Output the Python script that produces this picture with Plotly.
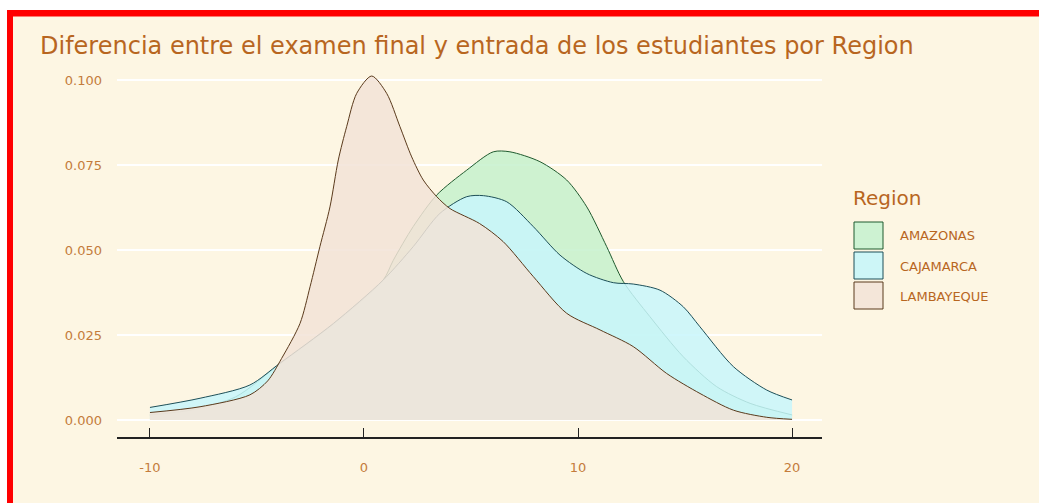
import plotly.graph_objects as go

# ---- data ----
regions = ["AMAZONAS", "CAJAMARCA", "LAMBAYEQUE"]

amazonas_x = [-10, -8, -6, -3.93, -1.43, 0.9, 1.37, 2.3, 3.4, 4.8, 6.04, 6.82, 8.22, 9.47, 10.41, 11.34, 12.12, 13.36, 14.92, 16.48, 18.04, 20]
amazonas_y = [0.0015, 0.003, 0.0068, 0.0165, 0.0282, 0.0412, 0.047, 0.0569, 0.0662, 0.0735, 0.0789, 0.0789, 0.076, 0.0706, 0.0627, 0.051, 0.0407, 0.0304, 0.0186, 0.0098, 0.0049, 0.0015]

cajamarca_x = [-10, -7.66, -5.33, -3.93, -1.43, 0.9, 2.3, 3.55, 4.8, 5.58, 6.67, 7.91, 9.16, 10.41, 11.65, 12.58, 13.83, 14.92, 15.7, 17.26, 18.82, 20]
cajamarca_y = [0.0037, 0.0064, 0.0103, 0.0167, 0.0284, 0.0412, 0.051, 0.0608, 0.0657, 0.066, 0.0642, 0.0569, 0.0485, 0.0431, 0.0404, 0.040, 0.0382, 0.0333, 0.0274, 0.0157, 0.0088, 0.0059]

lambayeque_x = [-10, -7.66, -5.33, -4.5, -3.85, -2.99, -2.52, -2.06, -1.59, -1.2, -0.81, -0.34, 0.36, 1.06, 1.68, 2.23, 2.77, 3.4, 4.02, 5.4, 6.5, 7.91, 9.47, 11.03, 12.58, 14.14, 15.7, 17.26, 18.82, 20]
lambayeque_y = [0.0022, 0.0039, 0.0074, 0.0115, 0.0181, 0.0284, 0.0392, 0.051, 0.0627, 0.0765, 0.0863, 0.0961, 0.1012, 0.0961, 0.0863, 0.0774, 0.0706, 0.0657, 0.0622, 0.0578, 0.0525, 0.0422, 0.0314, 0.0265, 0.0216, 0.0137, 0.0078, 0.0029, 0.0008, 0.0002]

x_ticks = [-10, 0, 10, 20]
y_ticks = [0.0, 0.025, 0.05, 0.075, 0.1]
y_ticklabels = ["0.000", "0.025", "0.050", "0.075", "0.100"]

title_text = "Diferencia entre el examen final y entrada de los estudiantes por Region"
legend_title = "Region"

# ---- styles ----
fills = ["rgba(197,241,205,0.85)", "rgba(200,246,252,0.85)", "rgba(242,227,215,0.85)"]
lines = ["#1f5a2e", "#1d4f58", "#5a3a1c"]
legend_fills = ["#cdf2d2", "#cdf6f7", "#f4e6d9"]
bg = "#FDF6E3"
txt = "#B8661F"
tick_col = "#C47C3C"
FONT = "DejaVu Sans"

W, H = 1039, 503
L, R, T, B = 117, 217, 58, 66
pw, ph = W - L - R, H - T - B


def px(xp):
    return (xp - L) / pw


def py(yp):
    return (H - B - yp) / ph


fig = go.Figure()
series = [(amazonas_x, amazonas_y), (cajamarca_x, cajamarca_y), (lambayeque_x, lambayeque_y)]
for name, (xs, ys), fc, lc in zip(regions, series, fills, lines):
    fig.add_trace(go.Scatter(
        x=xs, y=ys, name=name, mode="lines", fill="tozeroy",
        fillcolor=fc, line=dict(color=lc, width=1, shape="spline", smoothing=0.8),
        showlegend=False, hoverinfo="x+y+name"))

shapes = []
# white margins outside the red frame and the red frame itself
shapes.append(dict(type="rect", xref="paper", yref="paper", x0=px(-20), x1=px(W + 20), y0=py(10), y1=py(-20),
                   fillcolor="white", line=dict(width=0), layer="below"))
shapes.append(dict(type="rect", xref="paper", yref="paper", x0=px(-20), x1=px(7), y0=py(H + 20), y1=py(-20),
                   fillcolor="white", line=dict(width=0), layer="below"))
shapes.append(dict(type="rect", xref="paper", yref="paper", x0=px(7), x1=px(W + 20), y0=py(16.5), y1=py(10),
                   fillcolor="#FF0000", line=dict(width=0), layer="below"))
shapes.append(dict(type="rect", xref="paper", yref="paper", x0=px(7), x1=px(13), y0=py(H + 20), y1=py(10),
                   fillcolor="#FF0000", line=dict(width=0), layer="below"))

annotations = [dict(text=title_text, xref="paper", yref="paper", x=px(38), y=py(46),
                    xanchor="left", yanchor="middle", showarrow=False,
                    font=dict(family=FONT, size=24, color=txt)),
               dict(text=legend_title, xref="paper", yref="paper", x=px(851), y=py(198),
                    xanchor="left", yanchor="middle", showarrow=False,
                    font=dict(family=FONT, size=20, color=txt))]

box_tops = [222, 252, 282]
for name, top, lf, lc in zip(regions, box_tops, legend_fills, lines):
    shapes.append(dict(type="rect", xref="paper", yref="paper", x0=px(854), x1=px(883),
                       y0=py(top + 27), y1=py(top), fillcolor=lf, line=dict(color=lc, width=1)))
    annotations.append(dict(text=name, xref="paper", yref="paper", x=px(898), y=py(top + 14),
                            xanchor="left", yanchor="middle", showarrow=False,
                            font=dict(family=FONT, size=13, color=txt)))

fig.update_layout(
    width=W, height=H, margin=dict(l=L, r=R, t=T, b=B, autoexpand=False),
    paper_bgcolor=bg, plot_bgcolor="rgba(0,0,0,0)",
    showlegend=False, shapes=shapes, annotations=annotations,
    font=dict(family=FONT, color=tick_col),
)
fig.update_xaxes(range=[-11.54, 21.4], tickvals=x_ticks, ticktext=[str(v) for v in x_ticks],
                 showgrid=False, zeroline=False, showline=True, linecolor="#222222", linewidth=1.5,
                 ticks="inside", ticklen=9, tickcolor="#222222", tickwidth=1,
                 ticklabelstandoff=18, tickfont=dict(family=FONT, size=13, color=tick_col))
fig.update_yaxes(range=[-0.005, 0.1065], tickvals=y_ticks, ticktext=y_ticklabels,
                 showgrid=True, gridcolor="#FFFFFF", gridwidth=2, zeroline=False, showline=False,
                 ticks="", ticklabelstandoff=14, tickfont=dict(family=FONT, size=13, color=tick_col))

fig.write_html("out.html", config={"displayModeBar": False},
               post_script="document.body.style.margin='0px';document.body.style.overflow='hidden';")
